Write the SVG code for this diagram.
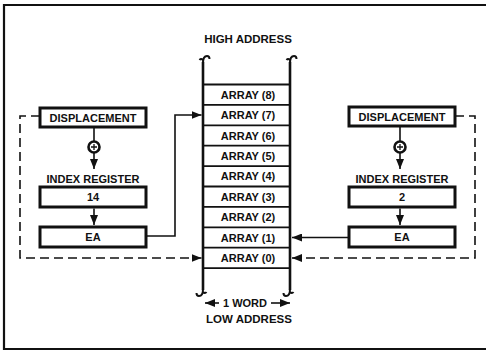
<svg xmlns="http://www.w3.org/2000/svg" width="486" height="351" viewBox="0 0 486 351">
<defs>
<style>
text{font-family:"Liberation Sans",Arial,sans-serif;font-weight:bold;font-size:11px;fill:#111;text-anchor:middle}
.big{font-size:11.5px}
.box{fill:#fff;stroke:#111;stroke-width:3}
.cell{fill:none;stroke:#111;stroke-width:1.8}
.rail{fill:none;stroke:#111;stroke-width:2.6}
.hook{fill:none;stroke:#111;stroke-width:2}
.ln{fill:none;stroke:#111;stroke-width:1.6}
.dash{fill:none;stroke:#111;stroke-width:1.6;stroke-dasharray:9 5}
.frame{fill:none;stroke:#111;stroke-width:2.2}
</style>
<marker id="ah" viewBox="0 0 10 8" refX="10" refY="4" markerWidth="10" markerHeight="8" markerUnits="userSpaceOnUse" orient="auto">
<path d="M0,0 L10,4 L0,8 Z" fill="#111"/>
</marker>
</defs>
<rect width="486" height="351" fill="#fff"/>
<path class="frame" d="M488,5 H4 V349 H488"/>

<g id="memory">
<text class="big" x="248" y="43">HIGH ADDRESS</text>
<path class="rail" d="M203,290 V62 M290,290 V62"/>
<path class="hook" d="M203,63 Q203,56 207,56 Q209.5,56 209.5,59 M203,60 Q201,58 199.5,60"/>
<path class="hook" d="M290,63 Q290,56 294,56 Q296.5,56 296.5,59 M290,60 Q288,58 286.5,60"/>
<path class="hook" d="M203,289 Q203,296 199,296 Q196.5,296 196.5,293 M203,292 Q205,294 206.5,292"/>
<path class="hook" d="M290,289 Q290,296 286,296 Q283.5,296 283.5,293 M290,292 Q292,294 293.5,292"/>
<path class="cell" d="M203,84.5 H290 M203,104.9 H290 M203,125.3 H290 M203,145.7 H290 M203,166.1 H290 M203,186.5 H290 M203,206.9 H290 M203,227.3 H290 M203,247.7 H290 M203,268.1 H290"/>
<text x="248" y="98.8">ARRAY (8)</text>
<text x="248" y="119.2">ARRAY (7)</text>
<text x="248" y="139.6">ARRAY (6)</text>
<text x="248" y="160">ARRAY (5)</text>
<text x="248" y="180.4">ARRAY (4)</text>
<text x="248" y="200.8">ARRAY (3)</text>
<text x="248" y="221.2">ARRAY (2)</text>
<text x="248" y="241.6">ARRAY (1)</text>
<text x="248" y="262">ARRAY (0)</text>
<text x="245" y="307">1 WORD</text>
<path class="ln" d="M219,303 H205" marker-end="url(#ah)"/>
<path class="ln" d="M271,303 H290" marker-end="url(#ah)"/>
<text class="big" x="249" y="323">LOW ADDRESS</text>
</g>

<g id="left-displacement">
<rect class="box" x="40" y="108" width="106" height="19"/>
<text x="93" y="121.5">DISPLACEMENT</text>
</g>
<g id="left-adder">
<circle cx="94" cy="147" r="5.5" fill="#fff" stroke="#111" stroke-width="2.6"/>
<path d="M94,144 V150 M91,147 H97" stroke="#111" stroke-width="1.3"/>
</g>
<g id="left-index">
<text x="93" y="183">INDEX REGISTER</text>
<rect class="box" x="40" y="187" width="106" height="20"/>
<text x="93" y="201">14</text>
</g>
<g id="left-ea">
<rect class="box" x="40" y="227" width="106" height="20"/>
<text x="93" y="241">EA</text>
</g>

<g id="right-displacement">
<rect class="box" x="349" y="107" width="106" height="19"/>
<text x="402" y="120.5">DISPLACEMENT</text>
</g>
<g id="right-adder">
<circle cx="400" cy="147" r="5.5" fill="#fff" stroke="#111" stroke-width="2.6"/>
<path d="M400,144 V150 M397,147 H403" stroke="#111" stroke-width="1.3"/>
</g>
<g id="right-index">
<text x="402" y="183">INDEX REGISTER</text>
<rect class="box" x="349" y="187" width="106" height="20"/>
<text x="402" y="201">2</text>
</g>
<g id="right-ea">
<rect class="box" x="349" y="227" width="106" height="20"/>
<text x="402" y="241">EA</text>
</g>

<g id="connectors">
<path class="ln" d="M94,127 V141.5"/>
<path class="ln" d="M94,152.5 V169" marker-end="url(#ah)"/>
<path class="ln" d="M94,208.5 V225" marker-end="url(#ah)"/>
<path class="ln" d="M146,236 H175 V115 H201.5" marker-end="url(#ah)"/>
<path class="dash" d="M40,116 H20 V258 H201.5" marker-end="url(#ah)"/>
<path class="ln" d="M400,126 V141.5"/>
<path class="ln" d="M400,152.5 V169" marker-end="url(#ah)"/>
<path class="ln" d="M400,208.5 V225" marker-end="url(#ah)"/>
<path class="ln" d="M349,237.5 H292" marker-end="url(#ah)"/>
<path class="dash" d="M455,116 H475 V258 H292" marker-end="url(#ah)"/>
</g>
</svg>
